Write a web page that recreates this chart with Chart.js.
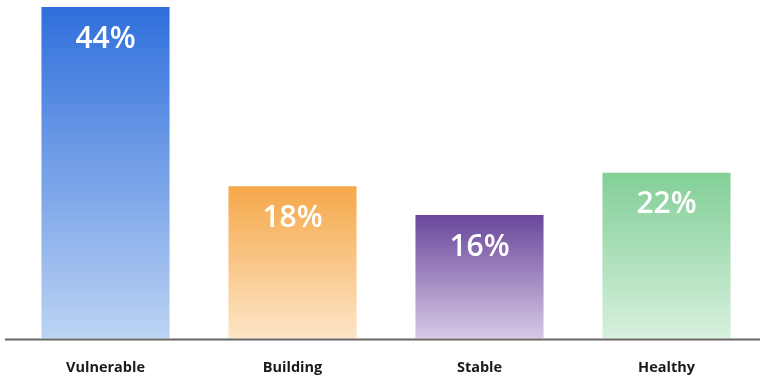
<!DOCTYPE html>
<html>
<head>
<meta charset="utf-8">
<script src="https://cdn.jsdelivr.net/npm/chart.js@4/dist/chart.umd.min.js"></script>
<style>
  html, body { margin: 0; padding: 0; background: #fff; }
  #wrap { width: 760px; height: 378px; position: relative; }
</style>
</head>
<body>
<div id="wrap"><canvas id="bars"></canvas></div>
<script>
var categories = ['Vulnerable', 'Building', 'Stable', 'Healthy'];
// bar heights (percent scale)
var barHeights = [44, 20.2, 16.4, 22];
// text printed inside each bar
var percentLabels = ['44%', '18%', '16%', '22%'];
var topColors = ['#2f6fdc', '#f5a84a', '#6a469b', '#83cf97'];
var bottomColors = ['#bcd3f3', '#fde5c6', '#d6cae6', '#d6f0dd'];

var ctx = document.getElementById('bars').getContext('2d');

function barFill(context) {
    var chart = context.chart;
    var i = context.dataIndex;
    var area = chart.chartArea;
    if (!area) return topColors[i];
    var yTop = chart.scales.y.getPixelForValue(barHeights[i]);
    var g = chart.ctx.createLinearGradient(0, yTop, 0, area.bottom);
    g.addColorStop(0, topColors[i]);
    g.addColorStop(1, bottomColors[i]);
    return g;
}

var baseLine = {
    id: 'baseLine',
    afterDraw: function (chart) {
        var c = chart.ctx;
        var y = chart.chartArea.bottom + 1;
        c.save();
        c.strokeStyle = '#666666';
        c.lineWidth = 2;
        c.beginPath();
        c.moveTo(5, y);
        c.lineTo(chart.width, y);
        c.stroke();
        c.restore();
    }
};

var inBarLabels = {
    id: 'inBarLabels',
    afterDatasetsDraw: function (chart) {
        var c = chart.ctx;
        var meta = chart.getDatasetMeta(0);
        c.save();
        c.fillStyle = '#ffffff';
        c.font = '600 30px "Open Sans"';
        c.textAlign = 'center';
        c.textBaseline = 'middle';
        meta.data.forEach(function (bar, i) {
            c.fillText(percentLabels[i], bar.x, bar.y + 32);
        });
        c.restore();
    }
};

var chart = new Chart(ctx, {
    type: 'bar',
    data: {
        labels: categories,
        datasets: [{
            data: barHeights,
            backgroundColor: barFill,
            borderWidth: 0,
            categoryPercentage: 1,
            barPercentage: 0.685
        }]
    },
    options: {
        responsive: true,
        maintainAspectRatio: false,
        animation: false,
        layout: {
            padding: { left: 12, right: 0, top: 7, bottom: -12 }
        },
        plugins: {
            legend: { display: false },
            tooltip: { enabled: false }
        },
        scales: {
            x: {
                grid: { display: false },
                border: { display: false },
                ticks: {
                    color: '#1a1a1a',
                    padding: 13,
                    font: { family: 'Open Sans', size: 14.5, weight: '700' }
                }
            },
            y: {
                display: false,
                min: 0,
                max: 44
            }
        }
    },
    plugins: [baseLine, inBarLabels]
});
</script>
</body>
</html>
